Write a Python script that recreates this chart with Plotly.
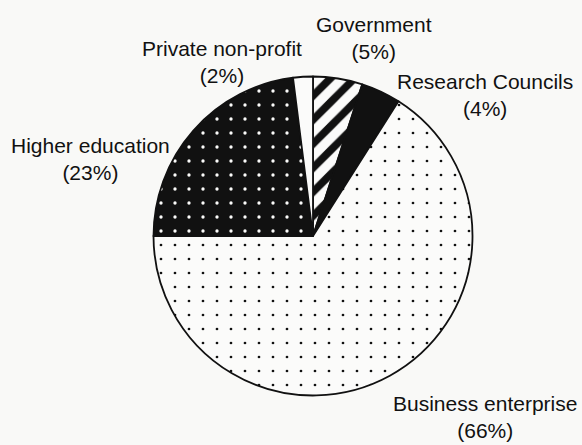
import plotly.graph_objects as go

# Share of R&D by performing sector, in slice order starting at 12 o'clock, clockwise
sectors = ["Government", "Research Councils", "Business enterprise",
           "Higher education", "Private non-profit"]
shares = [5, 4, 66, 23, 2]

# Fill styles per slice
fill_bg = ["#fbfbfa", "#111111", "#fbfbfa", "#111111", "#fbfbfa"]
fill_fg = ["#111111", "#111111", "#111111", "#fbfbfa", "#111111"]
fill_shape = ["/", "", ".", ".", ""]
fill_size = [17, 10, 14, 14, 10]
fill_solidity = [0.45, 0.3, 0.03, 0.045, 0.3]

# Label block centres in pixels (x from left, y from top)
label_px = [(374, 38.5), (485, 94.5), (485, 417), (90, 159), (222, 61.7)]

W, H = 582, 445
cx, cy, r = 313, 236, 159.5

fig = go.Figure(
    go.Pie(
        labels=sectors,
        values=shares,
        sort=False,
        direction="clockwise",
        rotation=0,
        textinfo="none",
        hoverinfo="label+percent",
        showlegend=False,
        domain=dict(x=[(cx - r) / W, (cx + r) / W],
                    y=[(H - cy - r) / H, (H - cy + r) / H]),
        marker=dict(
            colors=fill_bg,
            line=dict(color="#111111", width=1.8),
            pattern=dict(
                shape=fill_shape,
                bgcolor=fill_bg,
                fgcolor=fill_fg,
                size=fill_size,
                solidity=fill_solidity,
                fillmode="replace",
            ),
        ),
    )
)

for name, val, (px, py) in zip(sectors, shares, label_px):
    fig.add_annotation(
        x=px / W, y=1 - py / H, xref="paper", yref="paper",
        xanchor="center", yanchor="middle",
        text=f"{name}<br>({val}%)", showarrow=False, align="center",
        font=dict(family="Liberation Sans, Arial, sans-serif", size=21,
                  color="#111111"),
    )

fig.update_layout(
    width=W, height=H,
    margin=dict(l=0, r=0, t=0, b=0),
    paper_bgcolor="#f9f9f7",
    plot_bgcolor="#f9f9f7",
)

fig.write_html("out.html")
